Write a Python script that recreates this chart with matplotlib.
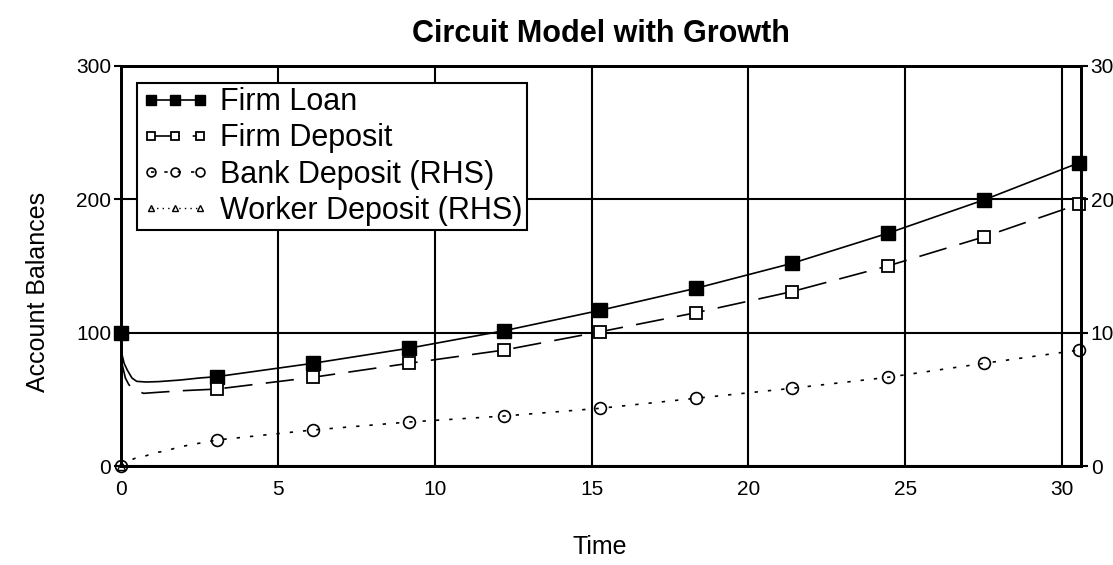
import matplotlib
matplotlib.use("Agg")
import matplotlib.pyplot as plt

plt.rcParams["font.family"] = ["Liberation Sans", "DejaVu Sans"]

# simulation output (LHS: loan/deposit, RHS: bank/worker)
time = [0, 0.02, 0.1, 0.2, 0.35, 0.5, 0.8, 1.2, 1.9, 2.5, 3.05, 6.11, 9.17,
        12.22, 15.28, 18.33, 21.39, 24.44, 27.5, 30.55]
firm_loan = [100, 85, 77, 72, 66, 63.5, 63, 63.3, 64.5, 66, 67, 77, 88.3,
             101.5, 116.8, 133.3, 152, 174.5, 199.5, 227.5]
dep_time = [0, 0.14, 0.25, 0.45, 0.72, 1.2, 1.45, 1.97, 3.05, 6.11, 9.17,
            12.22, 15.28, 18.33, 21.39, 24.44, 27.5, 30.55]
firm_deposit = [80, 66, 61, 57, 54.5, 55.3, 55.7, 56.5, 57.7, 66.5, 77, 87,
                100.7, 115, 130.8, 150, 171.8, 196.5]
bank_time = [0, 0.19, 0.45, 0.77, 1.1, 1.4, 1.9, 3.05, 6.11, 9.17, 12.22,
             15.28, 18.33, 21.39, 24.44, 27.5, 30.55]
bank_deposit = [0, 0.32, 0.58, 0.75, 1.0, 1.12, 1.45, 1.95, 2.7, 3.3, 3.75,
                4.33, 5.08, 5.83, 6.65, 7.7, 8.7]
worker_time = [0]
worker_deposit = [0]
marker_times = [0, 3.05, 6.11, 9.17, 12.22, 15.28, 18.33, 21.39, 24.44, 27.5, 30.55]

def mark_idx(ts):
    return [i for i, t in enumerate(ts) if t in marker_times]

fig = plt.figure(figsize=(11.13, 5.65), dpi=100)
ax = fig.add_axes([0.1087, 0.1752, 0.8625, 0.708])
ax2 = ax.twinx()

l1, = ax.plot(time, firm_loan, color="black", lw=1.2, marker="s", ms=9.5,
              mfc="black", mec="black", markevery=mark_idx(time),
              clip_on=False, label="Firm Loan")
l2, = ax.plot(dep_time, firm_deposit, color="black", lw=1.2, dashes=(17, 8),
              marker="s", ms=8.5, mfc="white", mec="black", mew=1.3,
              markevery=mark_idx(dep_time)[1:], clip_on=False, label="Firm Deposit")
l3, = ax2.plot(bank_time, bank_deposit, color="black", lw=1.2, dashes=(2, 6),
               marker="o", ms=8.5, mfc="none", mec="black", mew=1.2,
               markevery=mark_idx(bank_time), clip_on=False,
               label="Bank Deposit (RHS)")
l4, = ax2.plot(worker_time, worker_deposit, color="black", lw=1.0,
               dashes=(1, 3), marker="^", ms=6, mfc="none", mec="black",
               mew=1.0, clip_on=False, label="Worker Deposit (RHS)")

ax.set_xlim(0, 30.6)
ax.set_ylim(0, 300)
ax2.set_ylim(0, 30)
ax.set_xticks([0, 5, 10, 15, 20, 25, 30])
ax.set_yticks([0, 100, 200, 300])
ax2.set_yticks([0, 10, 20, 30])
ax.grid(True, color="black", lw=1.5)
for a in (ax, ax2):
    for s in a.spines.values():
        s.set_linewidth(2)
ax.tick_params(axis="x", length=0, pad=10, labelsize=15)
ax.tick_params(axis="y", length=5, width=1.5, pad=2, labelsize=15)
ax2.tick_params(axis="y", length=5, width=1.5, pad=2, labelsize=15)

ax.set_xlabel("Time", fontsize=18)
ax.xaxis.set_label_coords(0.499, -0.172)
ax.set_ylabel("Account Balances", fontsize=18)
ax.yaxis.set_label_coords(-0.074, 0.435)
ax.set_title("Circuit Model with Growth", fontsize=22, fontweight="bold", pad=17)

leg = ax2.legend(handles=[l1, l2, l3, l4], loc="upper left",
                 bbox_to_anchor=(0.017, 0.958), numpoints=3, markerscale=0.75,
                 fontsize=22, frameon=True, fancybox=False, framealpha=1,
                 edgecolor="black", handlelength=2.2, handletextpad=0.35,
                 labelspacing=0.2, borderpad=0.15, borderaxespad=0)
leg.get_frame().set_linewidth(1.5)

fig.savefig("out.png", dpi=100)
